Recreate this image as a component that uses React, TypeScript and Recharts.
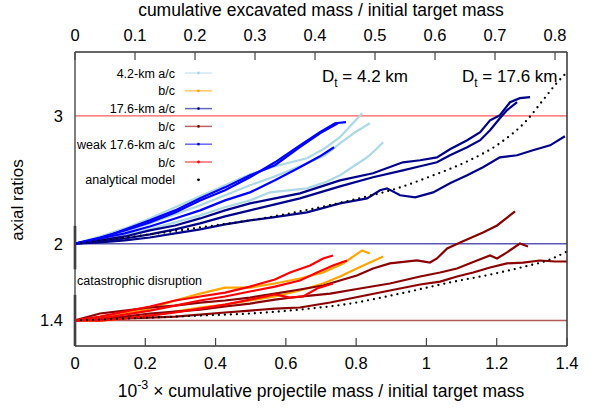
import React from 'react';
import { ComposedChart, Line, XAxis, YAxis, ReferenceLine, Legend } from 'recharts';

type Pt = [number, number];

const FONT = '"Liberation Sans", Arial, Helvetica, sans-serif';

const bottomTicks = [0, 0.2, 0.4, 0.6, 0.8, 1, 1.2, 1.4];
const topTicks = [0, 0.1, 0.2, 0.3, 0.4, 0.5, 0.6, 0.7, 0.8];
const yTicks = [1.4, 2, 3];

// 4.2-km a/c (light blue)
const lightBlue1: Pt[] = [[0,2.0],[0.071,2.057],[0.142,2.120],[0.213,2.198],[0.285,2.285],[0.356,2.371],[0.427,2.457],[0.498,2.543],[0.569,2.606],[0.660,2.669],[0.711,2.747],[0.754,2.833],[0.788,2.935],[0.817,3.021]];
const lightBlue2: Pt[] = [[0,2.0],[0.071,2.041],[0.142,2.096],[0.213,2.159],[0.285,2.230],[0.356,2.300],[0.427,2.379],[0.498,2.457],[0.569,2.527],[0.660,2.629],[0.711,2.692],[0.754,2.786],[0.797,2.872],[0.839,2.943]];
const lightBlue3: Pt[] = [[0,2.0],[0.071,2.026],[0.142,2.065],[0.213,2.112],[0.285,2.167],[0.356,2.222],[0.427,2.285],[0.498,2.339],[0.555,2.402],[0.660,2.433],[0.711,2.480],[0.754,2.535],[0.797,2.614],[0.831,2.676],[0.854,2.731],[0.877,2.794]];

// 4.2-km b/c (orange)
const orange1: Pt[] = [[0,1.4],[0.071,1.415],[0.142,1.454],[0.213,1.493],[0.285,1.556],[0.356,1.610],[0.427,1.657],[0.498,1.657],[0.569,1.689],[0.640,1.728],[0.706,1.775],[0.763,1.846],[0.817,1.948],[0.839,1.924]];
const orange2: Pt[] = [[0,1.4],[0.071,1.399],[0.142,1.415],[0.213,1.438],[0.285,1.469],[0.356,1.501],[0.427,1.524],[0.498,1.556],[0.569,1.587],[0.640,1.634],[0.706,1.689],[0.754,1.744],[0.802,1.806],[0.877,1.900]];

// 17.6-km a/c (navy)
const navy1: Pt[] = [[0,2.0],[0.071,2.026],[0.142,2.057],[0.213,2.104],[0.285,2.143],[0.356,2.198],[0.427,2.261],[0.498,2.316],[0.569,2.355],[0.640,2.394],[0.754,2.496],[0.848,2.551],[0.933,2.637],[0.982,2.653],[1.030,2.676],[1.067,2.739],[1.116,2.810],[1.153,2.872],[1.181,2.966],[1.209,3.005],[1.238,3.107],[1.266,3.139],[1.295,3.147]];
const navy2: Pt[] = [[0,2.0],[0.071,2.018],[0.142,2.041],[0.213,2.073],[0.285,2.112],[0.356,2.159],[0.427,2.214],[0.498,2.261],[0.569,2.308],[0.640,2.355],[0.754,2.449],[0.848,2.520],[0.933,2.574],[0.982,2.606],[1.030,2.637],[1.067,2.692],[1.116,2.755],[1.153,2.810],[1.181,2.888],[1.209,2.982],[1.229,3.044],[1.258,3.107]];
const navy3: Pt[] = [[0,2.0],[0.071,2.010],[0.142,2.026],[0.213,2.049],[0.285,2.081],[0.356,2.112],[0.427,2.151],[0.498,2.183],[0.563,2.206],[0.660,2.245],[0.754,2.316],[0.831,2.355],[0.868,2.418],[0.888,2.433],[0.925,2.379],[0.968,2.363],[1.019,2.402],[1.067,2.473],[1.116,2.535],[1.161,2.598],[1.209,2.676],[1.258,2.692],[1.303,2.731],[1.352,2.770],[1.394,2.841]];

// 17.6-km b/c (dark red)
const darkRed1: Pt[] = [[0,1.4],[0.071,1.454],[0.142,1.477],[0.213,1.501],[0.285,1.516],[0.356,1.540],[0.427,1.556],[0.498,1.579],[0.569,1.610],[0.640,1.642],[0.706,1.673],[0.754,1.712],[0.802,1.752],[0.848,1.806],[0.896,1.846],[0.973,1.869],[1.010,1.853],[1.030,1.885],[1.059,1.963],[1.096,2.010],[1.161,2.088],[1.201,2.143],[1.252,2.253]];
const darkRed2: Pt[] = [[0,1.4],[0.071,1.415],[0.142,1.430],[0.213,1.454],[0.285,1.469],[0.356,1.485],[0.427,1.509],[0.498,1.532],[0.569,1.563],[0.640,1.587],[0.726,1.610],[0.811,1.650],[0.896,1.689],[0.982,1.744],[1.039,1.775],[1.087,1.806],[1.144,1.869],[1.181,1.908],[1.201,1.885],[1.229,1.932],[1.266,2.002],[1.289,1.979]];
const darkRed3: Pt[] = [[0,1.4],[0.071,1.407],[0.142,1.415],[0.213,1.422],[0.285,1.430],[0.356,1.446],[0.427,1.462],[0.498,1.477],[0.569,1.493],[0.640,1.501],[0.726,1.540],[0.811,1.587],[0.896,1.634],[0.982,1.681],[1.039,1.704],[1.087,1.744],[1.133,1.775],[1.181,1.814],[1.229,1.846],[1.275,1.853],[1.323,1.869],[1.366,1.861],[1.400,1.861]];

// weak 17.6-km a/c (blue)
const blue1: Pt[] = [[0,2.0],[0.071,2.049],[0.142,2.104],[0.213,2.167],[0.285,2.245],[0.356,2.339],[0.427,2.418],[0.498,2.520],[0.569,2.637],[0.640,2.770],[0.697,2.872],[0.740,2.943],[0.771,2.951]];
const blue2: Pt[] = [[0,2.0],[0.071,2.041],[0.142,2.112],[0.213,2.183],[0.285,2.261],[0.356,2.355],[0.427,2.441],[0.498,2.535],[0.569,2.614],[0.640,2.755],[0.697,2.864],[0.748,2.943]];
const blue3: Pt[] = [[0,2.0],[0.071,2.041],[0.142,2.081],[0.213,2.135],[0.285,2.198],[0.356,2.261],[0.427,2.339],[0.498,2.402],[0.569,2.496],[0.640,2.598],[0.697,2.684],[0.737,2.755]];

// weak 17.6-km b/c (red)
const red1: Pt[] = [[0,1.4],[0.071,1.430],[0.142,1.469],[0.213,1.509],[0.285,1.556],[0.356,1.587],[0.427,1.618],[0.498,1.665],[0.569,1.720],[0.612,1.775],[0.669,1.830],[0.706,1.885],[0.734,1.908]];
const red2: Pt[] = [[0,1.4],[0.071,1.415],[0.142,1.446],[0.213,1.477],[0.285,1.516],[0.356,1.556],[0.427,1.587],[0.498,1.626],[0.569,1.665],[0.640,1.712],[0.689,1.775],[0.734,1.830],[0.774,1.869]];
const red3: Pt[] = [[0,1.4],[0.071,1.399],[0.142,1.415],[0.213,1.438],[0.285,1.462],[0.356,1.493],[0.427,1.524],[0.498,1.563],[0.569,1.603],[0.612,1.579],[0.649,1.587],[0.689,1.650],[0.734,1.689]];

// analytical model, against cumulative excavated mass (top axis)
const modelAC: Pt[] = [[0,2.0],[0.042,2.026],[0.125,2.073],[0.209,2.128],[0.292,2.183],[0.375,2.253],[0.459,2.339],[0.542,2.441],[0.597,2.535],[0.654,2.645],[0.708,2.786],[0.753,2.966],[0.780,3.123],[0.800,3.241],[0.820,3.342]];
const modelBC: Pt[] = [[0,1.4],[0.125,1.422],[0.209,1.438],[0.292,1.454],[0.375,1.485],[0.459,1.532],[0.542,1.610],[0.625,1.697],[0.708,1.775],[0.750,1.822],[0.792,1.877],[0.820,1.940]];

// reference levels
const levelValues = [3, 2, 1.4];
const levelColors = ['#ff0000', '#00008b', '#8b0000'];

// catastrophic disruption markers at x = 0
const disruptionSegments: Pt[][] = [[[0, 2.14], [0, 1.80]], [[0, 1.60], [0, 1.2]]];

const legendLabels = ['4.2-km a/c', 'b/c', '17.6-km a/c', 'b/c', 'weak 17.6-km a/c', 'b/c', 'analytical model'];
const legendColors = ['#add8e6', '#ffa500', '#00008b', '#8b0000', '#0000ff', '#ff0000', '#000000'];

const groups: { curves: Pt[][]; color: string }[] = [
  { curves: [lightBlue1, lightBlue2, lightBlue3], color: '#add8e6' },
  { curves: [orange1, orange2], color: '#ffa500' },
  { curves: [navy1, navy2, navy3], color: '#00008b' },
  { curves: [darkRed1, darkRed2, darkRed3], color: '#8b0000' },
  { curves: [blue1, blue2, blue3], color: '#0000ff' },
  { curves: [red1, red2, red3], color: '#ff0000' },
];

const toObj = (pts: Pt[]) => pts.map(([x, y]) => ({ x, y }));
const fmt = (v: number) => String(v);

const BottomTick = (props: any) => {
  const { x, y, payload } = props;
  return (
    <g>
      <line x1={x} x2={x} y1={y - 8} y2={y} stroke="#444" strokeWidth={1.2} />
      <text x={x} y={y + 23} textAnchor="middle" fontSize={16.5} fontFamily={FONT} fill="#000">{fmt(payload.value)}</text>
    </g>
  );
};

const TopTick = (props: any) => {
  const { x, y, payload } = props;
  return (
    <g>
      <line x1={x} x2={x} y1={y} y2={y + 8} stroke="#444" strokeWidth={1.2} />
      <text x={x} y={y - 11} textAnchor="middle" fontSize={16.5} fontFamily={FONT} fill="#000">{fmt(payload.value)}</text>
    </g>
  );
};

const LeftTick = (props: any) => {
  const { x, y, payload } = props;
  return (
    <text x={x - 12} y={y + 6} textAnchor="end" fontSize={16.5} fontFamily={FONT} fill="#000">{fmt(payload.value)}</text>
  );
};

const LegendContent = () => (
  <svg width={240} height={200} style={{ display: 'block' }}>
    {legendLabels.map((label, i) => {
      const cy = 73 + i * 17.8;
      const isModel = i === legendLabels.length - 1;
      return (
        <g key={i}>
          <text x={175} y={cy + 4.5} textAnchor="end" fontSize={12.5} fontFamily={FONT} fill="#000">{label}</text>
          {!isModel && <line x1={185} x2={212} y1={cy} y2={cy} stroke={legendColors[i]} strokeOpacity={0.6} strokeWidth={1.5} />}
          <circle cx={198.5} cy={cy} r={1.4} fill={legendColors[i]} />
        </g>
      );
    })}
  </svg>
);

export default function App() {
  let k = 0;
  return (
    <div style={{ position: 'absolute', left: 0, top: 0, width: 598, height: 419, background: '#fff' }}>
      <ComposedChart width={598} height={419} margin={{ top: 0, right: 0, bottom: 0, left: 0 }}>
        <XAxis xAxisId="b" type="number" dataKey="x" domain={[0, 1.4]} ticks={bottomTicks} interval={0}
          height={73} tickSize={0} tickMargin={0} tickLine={false} tick={<BottomTick />}
          axisLine={{ stroke: '#333', strokeWidth: 1.5 }} allowDataOverflow />
        <XAxis xAxisId="t" orientation="top" type="number" dataKey="x" domain={[0, 0.82]} ticks={topTicks} interval={0}
          height={52} tickSize={0} tickMargin={0} tickLine={false} tick={<TopTick />}
          axisLine={{ stroke: '#333', strokeWidth: 1.5 }} allowDataOverflow />
        <YAxis yAxisId="l" type="number" domain={[1.2, 3.5]} ticks={yTicks} interval={0}
          width={75} tickSize={0} tickMargin={0} tickLine={false} tick={<LeftTick />}
          axisLine={{ stroke: '#555', strokeWidth: 1.5 }} allowDataOverflow />
        <YAxis yAxisId="r" orientation="right" type="number" domain={[1.2, 3.5]} width={31}
          tick={false} tickLine={false} axisLine={{ stroke: '#333', strokeWidth: 1.5 }} allowDataOverflow />

        {levelValues.map((v, i) => (
          <ReferenceLine key={'lv' + i} xAxisId="b" yAxisId="l" y={v} stroke={levelColors[i]} strokeOpacity={0.65} strokeWidth={1.4} />
        ))}
        {disruptionSegments.map((seg, i) => (
          <ReferenceLine key={'ds' + i} xAxisId="b" yAxisId="l"
            segment={seg.map(([x, y]) => ({ x, y }))} stroke="#000" strokeWidth={2.5} ifOverflow="visible" />
        ))}

        {groups.map((g) =>
          g.curves.map((c) => (
            <Line key={'c' + k++} xAxisId="b" yAxisId="l" data={toObj(c)} dataKey="y" type="linear"
              stroke={g.color} strokeWidth={2.2} dot={false} activeDot={false} isAnimationActive={false} legendType="none" />
          ))
        )}
        {[modelAC, modelBC].map((m, i) => (
          <Line key={'m' + i} xAxisId="t" yAxisId="l" data={toObj(m)} dataKey="y" type="monotone"
            stroke="#000" strokeWidth={2.3} strokeDasharray="0 6" strokeLinecap="round"
            dot={false} activeDot={false} isAnimationActive={false} legendType="none" />
        ))}

        <Legend layout="vertical" align="center" verticalAlign="middle" content={<LegendContent />}
          wrapperStyle={{ position: 'absolute', left: 0, top: 0, width: 240, height: 200, pointerEvents: 'none' }} />
      </ComposedChart>

      <svg width={598} height={419} style={{ position: 'absolute', left: 0, top: 0, pointerEvents: 'none' }}>
        <text x={321} y={16} textAnchor="middle" fontSize={17.5} fontFamily={FONT} fill="#000">
          cumulative excavated mass / initial target mass
        </text>
        <text x={321} y={397} textAnchor="middle" fontSize={17.5} fontFamily={FONT} fill="#000">
          <tspan>10</tspan>
          <tspan dy={-8} fontSize={12.5}>-3</tspan>
          <tspan dy={8}> × cumulative projectile mass / initial target mass</tspan>
        </text>
        <text x={23} y={200} transform="rotate(-90, 23, 200)" textAnchor="middle" fontSize={17} fontFamily={FONT} fill="#000">
          axial ratios
        </text>
        <text x={322} y={82} fontSize={17} fontFamily={FONT} fill="#000">
          <tspan>D</tspan>
          <tspan dy={5} fontSize={12}>t</tspan>
          <tspan dy={-5}> = 4.2 km</tspan>
        </text>
        <text x={462} y={82} fontSize={17} fontFamily={FONT} fill="#000">
          <tspan>D</tspan>
          <tspan dy={5} fontSize={12}>t</tspan>
          <tspan dy={-5}> = 17.6 km</tspan>
        </text>
        <text x={77} y={285} fontSize={12.5} fontFamily={FONT} fill="#000">catastrophic disruption</text>
      </svg>
    </div>
  );
}
